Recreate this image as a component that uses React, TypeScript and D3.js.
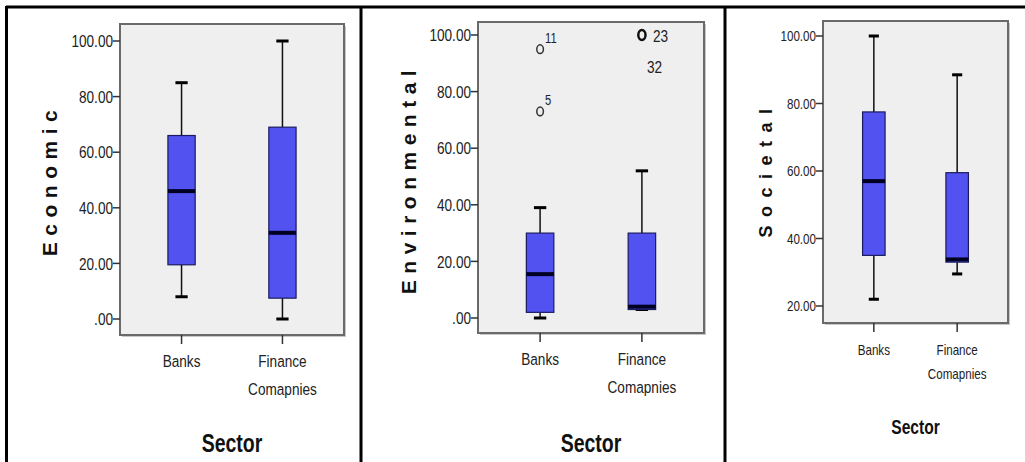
import * as d3 from "d3";

// categories
const sectors = ["Banks", "Finance Comapnies"];

// five-number summaries: [min, q1, median, q3, max]
const economicBanks = [8, 19.5, 46, 66, 85];
const economicFinance = [0, 7.5, 31, 69, 100];
const environmentalBanks = [0, 2, 15.5, 30, 39];
const environmentalFinance = [3, 3, 4, 30, 52];
const societalBanks = [22, 35, 57, 77.5, 100];
const societalFinance = [29.5, 33, 33.8, 59.5, 88.5];

// outliers (value, case label)
const envBanksOutliers = [{ v: 95, label: "11" }, { v: 73, label: "5" }];
const envFinanceOutliers = [{ v: 100, label: "23" }];
const envFinanceExtraLabel = "32";

// tick labels
const ticks0to100 = [0, 20, 40, 60, 80, 100];
const ticks20to100 = [20, 40, 60, 80, 100];
const fmt = (v: number) => (v === 0 ? ".00" : v.toFixed(2));

const sans = "'Liberation Sans', Arial, sans-serif";

// narrow text: Liberation Sans squeezed horizontally, like Arial Narrow
const NText = (props: {
  x: number;
  y: number;
  size: number;
  anchor?: string;
  bold?: boolean;
  sx?: number;
  dy?: string;
  children: any;
}) => (
  <text
    transform={`translate(${props.x},${props.y}) scale(${props.sx ?? 0.8},1)`}
    textAnchor={props.anchor ?? "start"}
    dy={props.dy}
    fontFamily={sans}
    fontWeight={props.bold ? "bold" : "normal"}
    fontSize={props.size}
    fill={props.bold ? "#111" : "#222"}
  >
    {props.children}
  </text>
);

type PanelProps = {
  title: string;
  boxes: number[][];
  yDomain: [number, number];
  yTicks: number[];
  frame: { x0: number; x1: number; y0: number; y1: number };
  yRange: [number, number];
  titlePos: [number, number];
  titleSize: number;
  titleSpacing: number;
  tickSize: number;
  catSize: number;
  sectorSize: number;
  sectorY: number;
};

const Panel = (p: PanelProps) => {
  const { x0, x1, y0, y1 } = p.frame;
  const x = d3.scalePoint<string>().domain(sectors).range([x0, x1]).padding(0.61);
  const y = d3.scaleLinear().domain(p.yDomain).range(p.yRange);
  const step = x.step();
  const bw = step * 0.27;
  const cw = bw * 0.45;

  return (
    <g>
      <rect x={x0 + 2} y={y0 + 2} width={x1 - x0} height={y1 - y0} fill="#c8c8c8" />
      <rect x={x0} y={y0} width={x1 - x0} height={y1 - y0} fill="#efefef" stroke="#6a6a6a" strokeWidth={2} />

      {p.yTicks.map((t) => (
        <g key={t}>
          <line x1={x0 - 7} x2={x0} y1={y(t)} y2={y(t)} stroke="#333" strokeWidth={1.5} />
          <NText x={x0 - 7} y={y(t)} dy="0.36em" anchor="end" size={p.tickSize}>
            {fmt(t)}
          </NText>
        </g>
      ))}

      {sectors.map((s, i) => {
        const cx = x(s)!;
        const [mn, q1, md, q3, mx] = p.boxes[i];
        const words = s.split(" ");
        return (
          <g key={s}>
            <line x1={cx} x2={cx} y1={y(mx)} y2={y(q3)} stroke="#111" strokeWidth={1.5} />
            <line x1={cx} x2={cx} y1={y(q1)} y2={y(mn)} stroke="#111" strokeWidth={1.5} />
            <line x1={cx - cw / 2} x2={cx + cw / 2} y1={y(mx)} y2={y(mx)} stroke="#000" strokeWidth={3} />
            <line x1={cx - cw / 2} x2={cx + cw / 2} y1={y(mn)} y2={y(mn)} stroke="#000" strokeWidth={3} />
            <rect x={cx - bw / 2} y={y(q3)} width={bw} height={y(q1) - y(q3)} fill="#5252f0" stroke="#1a1a60" strokeWidth={1.2} />
            <line x1={cx - bw / 2} x2={cx + bw / 2} y1={y(md)} y2={y(md)} stroke="#000022" strokeWidth={4} />
            <line x1={cx} x2={cx} y1={y1} y2={y1 + 9} stroke="#333" strokeWidth={1.5} />
            {words.map((w, j) => (
              <NText key={w} x={cx} y={y1 + 32 + j * p.catSize * 1.65} anchor="middle" size={p.catSize}>
                {w}
              </NText>
            ))}
          </g>
        );
      })}

      <text
        transform={`translate(${p.titlePos[0]},${p.titlePos[1]}) rotate(-90)`}
        textAnchor="middle"
        dy="0.36em"
        fontFamily={sans}
        fontWeight="bold"
        fontSize={p.titleSize}
        letterSpacing={p.titleSpacing}
        fill="#111"
      >
        {p.title}
      </text>
      <NText x={(x0 + x1) / 2} y={p.sectorY} anchor="middle" bold size={p.sectorSize} sx={0.78}>
        Sector
      </NText>
    </g>
  );
};

const App = () => {
  const envY = d3.scaleLinear().domain([0, 100]).range([318, 35]);
  const envX = d3.scalePoint<string>().domain(sectors).range([478, 704]).padding(0.61);
  const bx = envX("Banks")!;
  const fx = envX("Finance Comapnies")!;

  return (
    <svg width={1025} height={462} style={{ position: "absolute", left: 0, top: 0, background: "#fff" }}>
      {/* outer table borders */}
      <line x1={6} x2={1025} y1={7} y2={7} stroke="#000" strokeWidth={3} />
      <line x1={6.5} x2={6.5} y1={6} y2={462} stroke="#000" strokeWidth={3} />
      <line x1={361} x2={361} y1={6} y2={462} stroke="#000" strokeWidth={3} />
      <line x1={725} x2={725} y1={6} y2={462} stroke="#000" strokeWidth={3} />

      <Panel
        title="Economic"
        boxes={[economicBanks, economicFinance]}
        yDomain={[0, 100]}
        yTicks={ticks0to100}
        frame={{ x0: 120, x1: 344, y0: 24, y1: 335 }}
        yRange={[319, 41]}
        titlePos={[49, 180]}
        titleSize={21}
        titleSpacing={6.5}
        tickSize={17}
        catSize={17}
        sectorSize={25}
        sectorY={452}
      />

      <Panel
        title="Environmental"
        boxes={[environmentalBanks, environmentalFinance]}
        yDomain={[0, 100]}
        yTicks={ticks0to100}
        frame={{ x0: 478, x1: 704, y0: 22, y1: 333 }}
        yRange={[318, 35]}
        titlePos={[408, 179]}
        titleSize={21}
        titleSpacing={6.5}
        tickSize={17}
        catSize={17}
        sectorSize={25}
        sectorY={452}
      />
      {/* Environmental outliers */}
      {envBanksOutliers.map((o) => (
        <g key={o.label}>
          <ellipse cx={bx} cy={envY(o.v)} rx={3.3} ry={4.3} fill="none" stroke="#333" strokeWidth={1.5} />
          <NText x={bx + 5} y={envY(o.v) - 6} size={14}>
            {o.label}
          </NText>
        </g>
      ))}
      {envFinanceOutliers.map((o) => (
        <g key={o.label}>
          <ellipse cx={fx} cy={envY(o.v)} rx={3.6} ry={5} fill="none" stroke="#111" strokeWidth={2.5} />
          <NText x={fx + 11} y={envY(o.v) + 7} size={17}>
            {o.label}
          </NText>
          <NText x={fx + 5} y={envY(o.v) + 38} size={17}>
            {envFinanceExtraLabel}
          </NText>
        </g>
      ))}

      <Panel
        title="Societal"
        boxes={[societalBanks, societalFinance]}
        yDomain={[20, 100]}
        yTicks={ticks20to100}
        frame={{ x0: 823, x1: 1008, y0: 21, y1: 323 }}
        yRange={[306, 36]}
        titlePos={[766, 169]}
        titleSize={18}
        titleSpacing={8.5}
        tickSize={14.5}
        catSize={14.5}
        sectorSize={20}
        sectorY={434}
      />
    </svg>
  );
};

export default App;
